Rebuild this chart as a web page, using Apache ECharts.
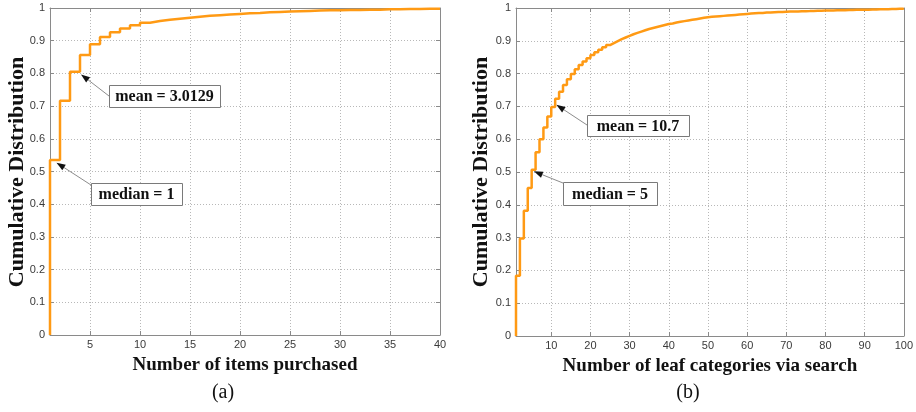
<!DOCTYPE html>
<html>
<head>
<meta charset="utf-8">
<script src="https://cdn.jsdelivr.net/npm/echarts@6/dist/echarts.min.js"></script>
<style>
html,body{margin:0;padding:0;background:#fff;}
#chart{width:916px;height:412px;}
</style>
</head>
<body>
<div id="chart"></div>
<script>
// ---- data ----
const leftX = [1,2,3,4,5,6,7,8,9,10,11,12,13,14,15,16,17,18,19,20,21,22,23,24,25,26,27,28,29,30,31,32,33,34,35,36,37,38,39,40];
const leftY = [0.535,0.716,0.805,0.856,0.889,0.911,0.926,0.937,0.947,0.955,0.960,0.964,0.967,0.970,0.973,0.976,0.978,0.980,0.982,0.984,0.985,0.987,0.988,0.989,0.990,0.991,0.992,0.993,0.993,0.994,0.994,0.995,0.995,0.996,0.996,0.997,0.997,0.998,0.998,0.999];
const rightX = [1,2,3,4,5,6,7,8,9,10,11,12,13,14,15,16,17,18,19,20,21,22,23,24,25,26,27,28,29,30,31,32,33,34,35,36,37,38,39,40,41,42,43,44,45,46,47,48,49,50,51,52,53,54,55,56,57,58,59,60,61,62,63,64,65,66,67,68,69,70,71,72,73,74,75,76,77,78,79,80,81,82,83,84,85,86,87,88,89,90,91,92,93,94,95,96,97,98,99,100];
const rightY = [0.184,0.297,0.382,0.451,0.507,0.560,0.600,0.636,0.669,0.698,0.723,0.745,0.765,0.783,0.799,0.813,0.826,0.837,0.847,0.857,0.865,0.873,0.880,0.887,0.893,0.899,0.905,0.910,0.915,0.920,0.924,0.928,0.932,0.936,0.939,0.942,0.945,0.948,0.951,0.953,0.956,0.958,0.960,0.962,0.964,0.966,0.968,0.970,0.972,0.973,0.974,0.975,0.976,0.977,0.978,0.979,0.980,0.981,0.982,0.983,0.984,0.9845,0.985,0.986,0.9865,0.987,0.9875,0.988,0.9885,0.989,0.9893,0.9896,0.99,0.9903,0.9906,0.991,0.9913,0.9916,0.992,0.9923,0.9926,0.993,0.9932,0.9935,0.9938,0.994,0.9943,0.9946,0.9948,0.995,0.9953,0.9956,0.9959,0.9962,0.9965,0.9968,0.9971,0.9974,0.9977,0.998];
const leftTicks = [5,10,15,20,25,30,35,40];
const rightTicks = [10,20,30,40,50,60,70,80,90,100];
const yTicks = [0,0.1,0.2,0.3,0.4,0.5,0.6,0.7,0.8,0.9,1];
const leftTitle = 'Number of items purchased';
const rightTitle = 'Number of leaf categories via search';
const yTitle = 'Cumulative Distribution';
const annotations = [
  {grid:0, text:'mean = 3.0129', target:[4.1,0.797], box:[109,85,111,22], startDy:11},
  {grid:0, text:'median = 1', target:[1.65,0.527], box:[91,183,91,22], startDy:2},
  {grid:1, text:'mean = 10.7', target:[11.3,0.705], box:[587,115,102,21], startDy:10},
  {grid:1, text:'median = 5', target:[5.55,0.502], box:[563,182,94,23], startDy:1}
];

const SERIF = '"Liberation Serif","DejaVu Serif",serif';
const SANS = '"Liberation Sans","DejaVu Sans",sans-serif';
const FRAME = '#8a8a8a';
const ORANGE = '#ff9a14';

const chart = echarts.init(document.getElementById('chart'));

function xAxisFor(gi, min, max, ticks, title, show){
  return {
    type:'value', gridIndex:gi, min:min, max:max, position: show ? 'bottom' : 'top',
    name: show ? title : '', nameLocation:'middle', nameGap:21,
    nameTextStyle:{fontFamily:SERIF, fontWeight:'bold', fontSize:19, color:'#111'},
    axisLine:{show:true, onZero:false, lineStyle:{color:FRAME, width:1}},
    axisTick:{show:true, inside:true, length:4, customValues:ticks, lineStyle:{color:FRAME}},
    axisLabel:{show:show, customValues:ticks, fontFamily:SANS, fontSize:11, color:'#3a3a3a', margin:4},
    splitLine:{show:show, lineStyle:{color:'#b8b8b8', type:[1,2], width:1}}
  };
}
function yAxisFor(gi, show){
  return {
    type:'value', gridIndex:gi, min:0, max:1, interval:0.1, position: show ? 'left' : 'right',
    axisLine:{show:true, onZero:false, lineStyle:{color:FRAME, width:1}},
    axisTick:{show:true, inside:true, length:4, lineStyle:{color:FRAME}},
    axisLabel:{show:show, fontFamily:SANS, fontSize:11, color:'#3a3a3a', margin:5,
      formatter:function(v){ return String(Math.round(v*10)/10); }},
    splitLine:{show:show, lineStyle:{color:'#b8b8b8', type:[1,2], width:1}}
  };
}

const option = {
  animation:false,
  backgroundColor:'#fff',
  grid:[
    {left:50, right:476, top:8, bottom:77},
    {left:516, right:9, top:8, bottom:76}
  ],
  xAxis:[
    xAxisFor(0,1,40,leftTicks,leftTitle,true),
    xAxisFor(1,1,100,rightTicks,rightTitle,true),
    xAxisFor(0,1,40,leftTicks,'',false),
    xAxisFor(1,1,100,rightTicks,'',false)
  ],
  yAxis:[
    yAxisFor(0,true),
    yAxisFor(1,true),
    yAxisFor(0,false),
    yAxisFor(1,false)
  ],
  series:[
    {type:'line', xAxisIndex:0, yAxisIndex:0, step:'end', showSymbol:false, symbol:'none',
     lineStyle:{color:ORANGE, width:2.5}, z:5,
     data:[[leftX[0],0]].concat(leftX.map((x,i)=>[x,leftY[i]]))},
    {type:'line', xAxisIndex:1, yAxisIndex:1, step:'end', showSymbol:false, symbol:'none',
     lineStyle:{color:ORANGE, width:2.5}, z:5,
     data:[[rightX[0],0]].concat(rightX.map((x,i)=>[x,rightY[i]]))}
  ]
};
chart.setOption(option);

// annotations, y titles and captions
const graphics = [];
annotations.forEach(function(a){
  const tip = chart.convertToPixel({xAxisIndex:a.grid, yAxisIndex:a.grid}, a.target);
  const bx=a.box[0], by=a.box[1], bw=a.box[2], bh=a.box[3];
  const sx = bx, sy = by + a.startDy;
  const dx = tip[0]-sx, dy = tip[1]-sy, L = Math.sqrt(dx*dx+dy*dy);
  const ux = dx/L, uy = dy/L;
  const hl = 9, hw = 3.2;
  const baseX = tip[0]-ux*hl, baseY = tip[1]-uy*hl;
  graphics.push({type:'line', z:20, shape:{x1:sx,y1:sy,x2:baseX,y2:baseY}, style:{stroke:'#8c8c8c', lineWidth:1}});
  graphics.push({type:'polygon', z:21, shape:{points:[[tip[0],tip[1]],[baseX-uy*hw,baseY+ux*hw],[baseX+uy*hw,baseY-ux*hw]]}, style:{fill:'#111'}});
  graphics.push({type:'rect', z:22, shape:{x:bx+0.5,y:by+0.5,width:bw,height:bh}, style:{fill:'#fff', stroke:'#7a7a7a', lineWidth:1}});
  graphics.push({type:'text', z:23, x:bx+bw/2, y:by+bh/2+1, style:{text:a.text, font:'bold 16px '+SERIF, fill:'#111', align:'center', verticalAlign:'middle'}});
});
graphics.push({type:'text', x:17, y:172, rotation:Math.PI/2, style:{text:yTitle, font:'bold 22px '+SERIF, fill:'#111', align:'center', verticalAlign:'middle'}});
graphics.push({type:'text', x:481, y:172, rotation:Math.PI/2, style:{text:yTitle, font:'bold 22px '+SERIF, fill:'#111', align:'center', verticalAlign:'middle'}});
graphics.push({type:'text', x:223, y:393, style:{text:'(a)', font:'20px '+SERIF, fill:'#111', align:'center', verticalAlign:'middle'}});
graphics.push({type:'text', x:688, y:393, style:{text:'(b)', font:'20px '+SERIF, fill:'#111', align:'center', verticalAlign:'middle'}});
chart.setOption({graphic:graphics});
</script>
</body>
</html>
